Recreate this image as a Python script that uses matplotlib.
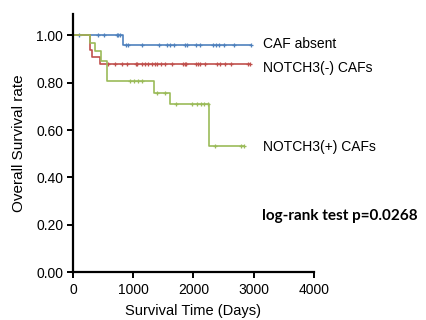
import numpy as np
import matplotlib
matplotlib.use("Agg")
import matplotlib.pyplot as plt

plt.rcParams['font.family'] = ['Liberation Sans', 'DejaVu Sans']

# Step curves (time, survival)
absent_t = [0, 834, 2963]
absent_s = [1.0, 0.958, 0.958]
absent_cens = [100, 415, 515, 730, 745, 780, 874, 917, 1149, 1426, 1554, 1609, 1675,
               1857, 1895, 2040, 2106, 2327, 2383, 2426, 2504, 2670, 2963]

neg_t = [0, 282, 320, 448, 2945]
neg_s = [1.0, 0.94, 0.91, 0.881, 0.881]
neg_cens = [585, 696, 807, 890, 1044, 1066, 1139, 1193, 1248, 1304, 1359, 1387, 1454,
            1525, 1636, 1828, 1856, 1884, 2050, 2077, 2105, 2199, 2392, 2437, 2520,
            2630, 2906, 2945]

pos_t = [0, 285, 365, 465, 565, 1343, 1615, 2261, 2836]
pos_s = [1.0, 0.968, 0.935, 0.893, 0.806, 0.757, 0.711, 0.531, 0.531]
pos_cens = [945, 1012, 1083, 1139, 1388, 1520, 1703, 1968, 2051, 2134, 2172, 2244,
            2355, 2797, 2836]

labels = ["CAF absent", "NOTCH3(-) CAFs", "NOTCH3(+) CAFs"]
colors = ["#4f81bd", "#c0504d", "#9bbb59"]

xticks = [0, 1000, 2000, 3000, 4000]
yticks = [0.0, 0.2, 0.4, 0.6, 0.8, 1.0]

fig = plt.figure(figsize=(4.27, 3.2), dpi=100)
ax = fig.add_axes([0.171, 0.15, 0.564, 0.806])

def surv_at(t, ts, ss):
    idx = np.searchsorted(ts, t, side='right') - 1
    return np.array(ss)[idx]

for ts, ss, cs, c in [(absent_t, absent_s, absent_cens, colors[0]),
                      (neg_t, neg_s, neg_cens, colors[1]),
                      (pos_t, pos_s, pos_cens, colors[2])]:
    ax.step(ts, ss, where='post', color=c, lw=1.2)
    ax.plot(cs, surv_at(np.array(cs), ts, ss), ls='none', marker='+', ms=3.5,
            mew=0.9, color=c)

ax.set_xlim(0, 4000)
ax.set_ylim(0, 1.09)
ax.set_xticks(xticks)
ax.set_xticklabels([str(x) for x in xticks], fontsize=10)
ax.set_yticks(yticks)
ax.set_yticklabels([f"{y:.2f}" for y in yticks], fontsize=10)
for s in ['top', 'right']:
    ax.spines[s].set_visible(False)
for s in ['left', 'bottom']:
    ax.spines[s].set_linewidth(1.6)
ax.tick_params(direction='out', length=4, width=1.4)
ax.tick_params(axis='x', pad=4)
ax.tick_params(axis='y', pad=3)

ax.set_ylabel("Overall Survival rate", fontsize=11, labelpad=7)
ax.set_xlabel("Survival Time (Days)", fontsize=10.5, labelpad=5)

fig.text(263/427, 1-44/320, labels[0], fontsize=10, va='center', ha='left')
fig.text(263/427, 1-68/320, labels[1], fontsize=10, va='center', ha='left')
fig.text(263/427, 1-147/320, labels[2], fontsize=10, va='center', ha='left')
fig.text(262/427, 1-216/320, "log-rank test p=0.0268", fontsize=11,
         fontweight='bold', family=['Lato', 'DejaVu Sans'], va='center', ha='left')

fig.savefig("out.png", dpi=100)
